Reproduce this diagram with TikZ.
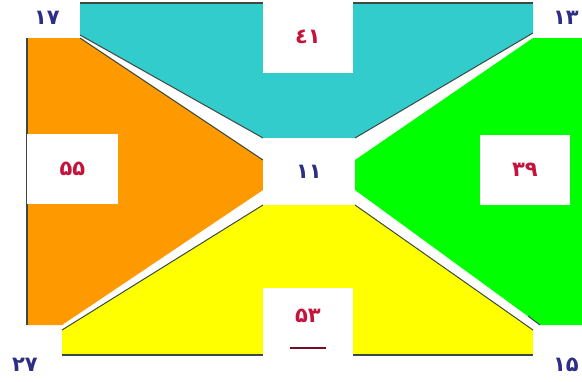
\documentclass[tikz,border=0pt]{standalone}
\usepackage{fontspec}
\newfontfamily\digitfont{DejaVu Sans}
\definecolor{tealfill}{HTML}{33CCCC}
\definecolor{orangefill}{HTML}{FF9900}
\definecolor{greenfill}{HTML}{00FF00}
\definecolor{yellowfill}{HTML}{FFFF00}
\definecolor{edgedark}{HTML}{3A4A40}
\definecolor{navytext}{HTML}{2E2E84}
\definecolor{redtext}{HTML}{C4143C}
\tikzset{
  plate/.style={fill=white,draw=none,inner sep=0pt},
  cornernum/.style={font=\digitfont\bfseries\fontsize{21}{21}\selectfont,text=navytext,inner sep=0pt},
  innernum/.style={plate,font=\digitfont\bfseries\fontsize{21}{21}\selectfont,text=redtext},
  rim/.style={draw=edgedark,line width=1pt},
}
\begin{document}
\begin{tikzpicture}[x=1pt,y=-1pt]
\useasboundingbox[fill=white] (0,0) rectangle (582,381);
% coloured faces
\fill[tealfill] (80,3) -- (533,3) -- (533,33) -- (355,138) -- (263,138) -- (80,35) -- cycle;
\fill[orangefill] (27,38) -- (80,38) -- (263,160) -- (263,190) -- (62,325) -- (27,325) -- cycle;
\fill[greenfill] (533,38) -- (582,38) -- (582,325) -- (540,325) -- (355,190) -- (355,160) -- cycle;
\fill[yellowfill] (62,330) -- (263,205) -- (355,205) -- (533,330) -- (533,355) -- (62,355) -- cycle;
% dark rims
\draw[rim,line width=2pt] (80,3) -- (533,3);
\draw[rim] (80,35) -- (263,138);
\draw[rim] (533,33) -- (355,138);
\draw[rim] (80,38) -- (263,160);
\draw[rim,line width=1.5pt] (27,38) -- (27,325);
\draw[rim] (62,330) -- (263,205);
\draw[rim] (533,330) -- (355,205);
\draw[rim] (540,325) -- (528,316);
\draw[rim,line width=2pt] (62,355) -- (533,355);
% white plates with numbers
\node[innernum,minimum width=90pt,minimum height=73pt] (b41) at (308,36.5) {٤١};
\node[innernum,minimum width=91pt,minimum height=70pt] (b55) at (72.5,169) {۵۵};
\node[innernum,minimum width=90pt,minimum height=70pt] (b39) at (525,170) {۳۹};
\node[innernum,text=navytext,minimum width=92pt,minimum height=67pt] (bmid) at (309,171.5) {۱۱};
\node[plate,minimum width=90pt,minimum height=72pt] (b53) at (308,324) {};
\node[innernum,fill=none] (l53) at (308,316) {۵۳};
\draw[redtext!60!black,line width=1.5pt] ([xshift=-18pt]l53.center |- 0,348) -- ([xshift=18pt]l53.center |- 0,348);
% corner numbers
\node[cornernum] (l17) at (47,18) {۱۷};
\node[cornernum] (l13) at (566,18) {۱۳};
\node[cornernum] (l27) at (25,365) {۲۷};
\node[cornernum] (l15) at (566,365) {۱۵};
\end{tikzpicture}
\end{document}
